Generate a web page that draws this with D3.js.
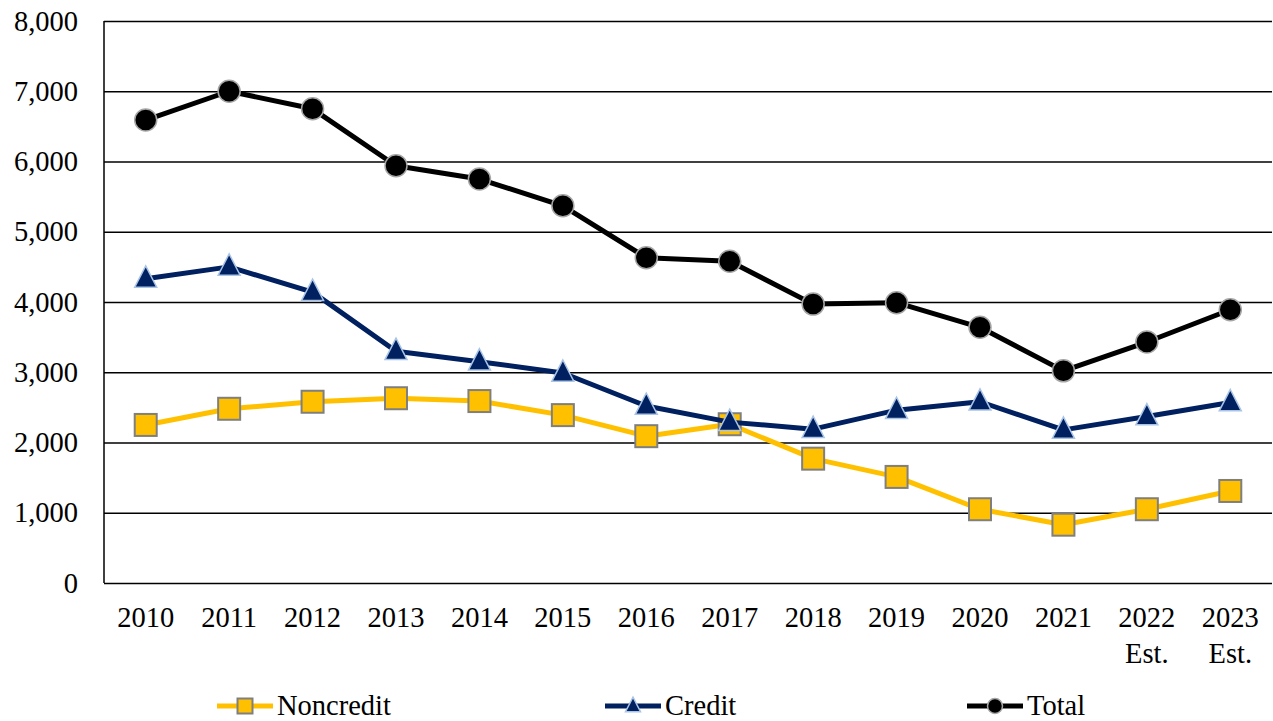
<!DOCTYPE html>
<html>
<head>
<meta charset="utf-8">
<script src="https://cdn.jsdelivr.net/npm/d3@7"></script>
<style>
  body { margin: 0; background: #fff; }
  text { font-family: "Liberation Serif", "Times New Roman", serif; }
</style>
</head>
<body>
<svg id="chart" width="1273" height="721"></svg>
<script>
// data
var years = ["2010", "2011", "2012", "2013", "2014", "2015", "2016", "2017", "2018", "2019", "2020", "2021", "2022\nEst.", "2023\nEst."]
var noncredit = [2250, 2480, 2580, 2630, 2590, 2390, 2090, 2260, 1770, 1510, 1050, 830, 1050, 1310]
var credit = [4330, 4500, 4140, 3300, 3150, 2990, 2520, 2290, 2190, 2460, 2580, 2180, 2370, 2570]
var total = [6590, 7000, 6750, 5940, 5750, 5370, 4630, 4580, 3970, 3990, 3640, 3020, 3430, 3890]
var yTicks = [0, 1000, 2000, 3000, 4000, 5000, 6000, 7000, 8000]

var margin = { top: 21, right: 1, bottom: 138, left: 104 }
var width = 1273 - margin.left - margin.right
var height = 721 - margin.top - margin.bottom

var svg = d3.select("#chart")
var g = svg.append("g")
    .attr("transform", "translate(" + margin.left + "," + margin.top + ")")

var x = d3.scaleBand().domain(years).range([0, width]).padding(0)
var y = d3.scaleLinear().domain([0, 8000]).range([height, 0])
var cx = function(i) { return x(years[i]) + x.bandwidth() / 2 }

// gridlines + y labels
var yAxis = d3.axisLeft(y).tickValues(yTicks).tickSize(-width).tickFormat(d3.format(","))
var ya = g.append("g").call(yAxis)
ya.select(".domain").remove()
ya.selectAll(".tick line").attr("stroke", "#000").attr("stroke-width", 1.5)
ya.selectAll(".tick text")
    .attr("x", -26)
    .attr("fill", "#000")
    .style("font-size", "28.5px")

// left axis line
g.append("line")
    .attr("x1", 0).attr("x2", 0)
    .attr("y1", 0).attr("y2", height)
    .attr("stroke", "#000").attr("stroke-width", 1.5)

// x labels (two lines for estimates)
var xl = g.append("g").selectAll("text").data(years).enter().append("text")
    .attr("x", function(d) { return x(d) + x.bandwidth() / 2 })
    .attr("y", height + 44)
    .attr("text-anchor", "middle")
    .style("font-size", "28.5px")
xl.each(function(d) {
    var parts = d.split("\n")
    var t = d3.select(this)
    parts.forEach(function(p, k) {
        t.append("tspan")
            .attr("x", t.attr("x"))
            .attr("dy", k == 0 ? 0 : 36)
            .text(p)
    })
})

var series = [
    { name: "Noncredit", values: noncredit, color: "#FFC000", shape: "square", stroke: "#7f7f7f" },
    { name: "Credit", values: credit, color: "#002060", shape: "triangle", stroke: "#a9c4e6" },
    { name: "Total", values: total, color: "#000000", shape: "circle", stroke: "#a6a6a6" }
]

function drawMarker(sel, shape, size, fill, stroke) {
    if (shape == "circle") {
        sel.append("circle").attr("r", size / 2)
            .attr("fill", fill).attr("stroke", stroke).attr("stroke-width", 1.5)
    } else if (shape == "square") {
        sel.append("rect").attr("x", -size / 2).attr("y", -size / 2)
            .attr("width", size).attr("height", size)
            .attr("fill", fill).attr("stroke", stroke).attr("stroke-width", 2)
    } else {
        var h = size * 0.95
        sel.append("path")
            .attr("d", "M0," + (-h * 0.62) + "L" + (size / 2) + "," + (h * 0.4) + "L" + (-size / 2) + "," + (h * 0.4) + "Z")
            .attr("fill", fill).attr("stroke", stroke).attr("stroke-width", 1.5)
    }
}

var line = d3.line()
    .x(function(d, i) { return cx(i) })
    .y(function(d) { return y(d) })

series.forEach(function(s) {
    g.append("path")
        .datum(s.values)
        .attr("fill", "none")
        .attr("stroke", s.color)
        .attr("stroke-width", 5)
        .attr("stroke-linejoin", "round")
        .attr("d", line)
    s.values.forEach(function(v, i) {
        var m = g.append("g").attr("transform", "translate(" + cx(i) + "," + y(v) + ")")
        drawMarker(m, s.shape, 22, s.color, s.stroke)
    })
})

// legend
var legendX = [217, 605, 967]
var ly = 706
series.forEach(function(s, i) {
    var lg = svg.append("g").attr("transform", "translate(" + legendX[i] + "," + ly + ")")
    lg.append("line").attr("x1", 0).attr("x2", 56).attr("y1", 0).attr("y2", 0)
        .attr("stroke", s.color).attr("stroke-width", 5)
    var m = lg.append("g").attr("transform", "translate(28,0)")
    drawMarker(m, s.shape, 15, s.color, s.stroke)
    lg.append("text").attr("x", 60).attr("y", 0).attr("dy", "0.33em")
        .style("font-size", "28.5px")
        .text(s.name)
})
</script>
</body>
</html>
